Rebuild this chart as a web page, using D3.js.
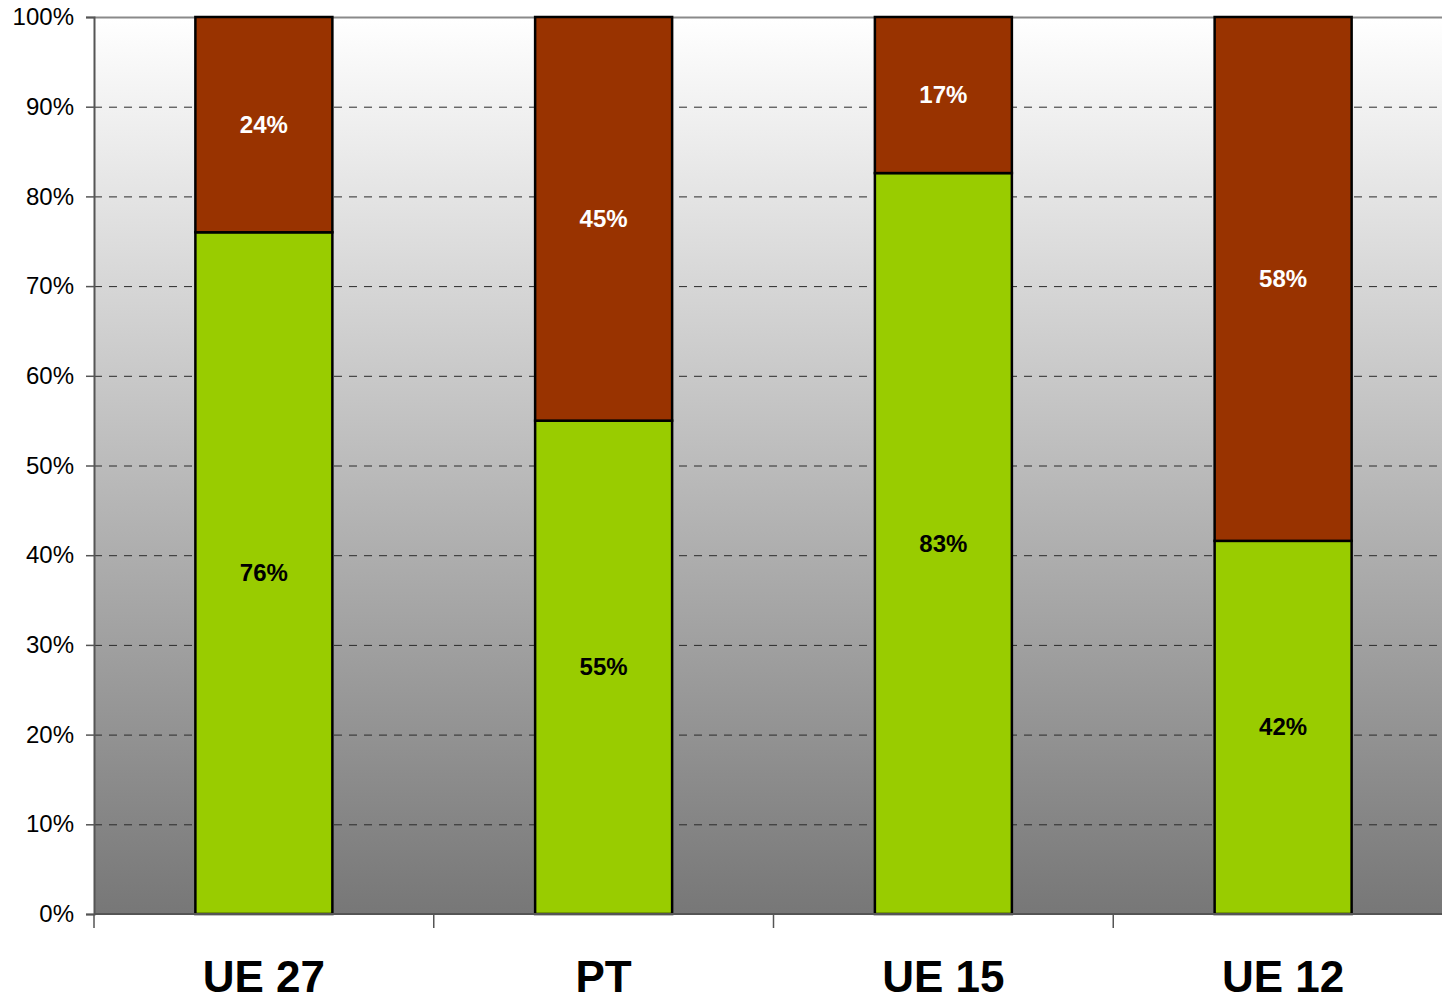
<!DOCTYPE html>
<html>
<head>
<meta charset="utf-8">
<script src="https://cdn.jsdelivr.net/npm/d3@7"></script>
<style>
  body { margin: 0; background: #fff; }
  svg { display: block; font-family: "Liberation Sans", Arial, sans-serif; }
</style>
</head>
<body>
<div class="canvas"></div>
<script>
// data
const categories = ['UE 27', 'PT', 'UE 15', 'UE 12'];
const greenValues = [76, 55, 82.6, 41.6];
const redValues = [24, 45, 17.4, 58.4];
const greenLabels = ['76%', '55%', '83%', '42%'];
const redLabels = ['24%', '45%', '17%', '58%'];
const yTicks = [0, 10, 20, 30, 40, 50, 60, 70, 80, 90, 100];

const svg = d3.select('.canvas')
    .append('svg')
    .attr('width', 1442)
    .attr('height', 999);

const margins = {top: 17, left: 94, bottom: 85, right: -11};
const graphWidth = 1442 - margins.left - margins.right;
const graphHeight = 999 - margins.top - margins.bottom;

// background gradient
const defs = svg.append('defs');
const grad = defs.append('linearGradient')
    .attr('id', 'bg')
    .attr('x1', 0).attr('y1', 0).attr('x2', 0).attr('y2', 1);
grad.append('stop').attr('offset', '0%').attr('stop-color', '#ffffff');
grad.append('stop').attr('offset', '100%').attr('stop-color', '#777777');

const graph = svg.append('g')
    .attr('transform', 'translate(' + margins.left + ',' + margins.top + ')');

const y = d3.scaleLinear()
    .range([graphHeight, 0])
    .domain([0, 100]);

const x = d3.scaleBand()
    .range([0, graphWidth])
    .domain(categories)
    .paddingInner(0)
    .paddingOuter(0);

const barW = 137;

graph.append('rect')
    .attr('width', graphWidth)
    .attr('height', graphHeight)
    .attr('fill', 'url(#bg)');

// gridlines
graph.selectAll('line.grid')
    .data(yTicks.filter(t => t > 0 && t < 100))
    .enter().append('line')
    .attr('class', 'grid')
    .attr('x1', 0)
    .attr('x2', graphWidth)
    .attr('y1', d => y(d) + 0.5)
    .attr('y2', d => y(d) + 0.5)
    .attr('stroke', '#2a2a2a')
    .attr('stroke-width', 1)
    .attr('stroke-dasharray', '8,7');

// top border
graph.append('line')
    .attr('x1', 0).attr('x2', graphWidth)
    .attr('y1', 0.5).attr('y2', 0.5)
    .attr('stroke', '#8a8a8a')
    .attr('stroke-width', 2);

// bars
const idx = d3.range(categories.length);
const bx = i => x(categories[i]) + (x.bandwidth() - barW) / 2;

graph.selectAll('rect.green')
    .data(idx)
    .enter().append('rect')
    .attr('class', 'green')
    .attr('x', bx)
    .attr('y', i => y(greenValues[i]))
    .attr('width', barW)
    .attr('height', i => graphHeight - y(greenValues[i]))
    .attr('fill', '#99cc00')
    .attr('stroke', '#000')
    .attr('stroke-width', 2.5);

graph.selectAll('rect.red')
    .data(idx)
    .enter().append('rect')
    .attr('class', 'red')
    .attr('x', bx)
    .attr('y', i => y(greenValues[i] + redValues[i]))
    .attr('width', barW)
    .attr('height', i => y(greenValues[i]) - y(greenValues[i] + redValues[i]))
    .attr('fill', '#993300')
    .attr('stroke', '#000')
    .attr('stroke-width', 2.5);

// labels
graph.selectAll('text.gl')
    .data(idx)
    .enter().append('text')
    .attr('x', i => x(categories[i]) + x.bandwidth() / 2)
    .attr('y', i => y(greenValues[i] / 2) + 8)
    .attr('text-anchor', 'middle')
    .attr('font-size', 24)
    .attr('font-weight', 'bold')
    .attr('fill', '#000')
    .text(i => greenLabels[i]);

graph.selectAll('text.rl')
    .data(idx)
    .enter().append('text')
    .attr('x', i => x(categories[i]) + x.bandwidth() / 2)
    .attr('y', i => y(greenValues[i] + redValues[i] / 2) + 8)
    .attr('text-anchor', 'middle')
    .attr('font-size', 24)
    .attr('font-weight', 'bold')
    .attr('fill', '#fff')
    .text(i => redLabels[i]);

// axes
const yAxis = d3.axisLeft(y)
    .tickValues(yTicks)
    .tickSize(8)
    .tickPadding(12)
    .tickFormat(d => d + '%');

const yAxisGroup = graph.append('g').call(yAxis);
yAxisGroup.select('.domain').attr('stroke', '#555').attr('stroke-width', 2);
yAxisGroup.selectAll('.tick line').attr('stroke', '#555').attr('stroke-width', 1.5);
yAxisGroup.selectAll('.tick text')
    .attr('font-size', 24)
    .attr('font-family', '"Liberation Sans", Arial, sans-serif')
    .attr('fill', '#000');

const xAxisGroup = graph.append('g')
    .attr('transform', 'translate(0,' + graphHeight + ')');
xAxisGroup.append('line')
    .attr('x1', 0).attr('x2', graphWidth)
    .attr('y1', 0).attr('y2', 0)
    .attr('stroke', '#555').attr('stroke-width', 2);
xAxisGroup.selectAll('line.tk')
    .data(categories)
    .enter().append('line')
    .attr('x1', d => x(d)).attr('x2', d => x(d))
    .attr('y1', 0).attr('y2', 14)
    .attr('stroke', '#555').attr('stroke-width', 1.5);
xAxisGroup.selectAll('text.cat')
    .data(categories)
    .enter().append('text')
    .attr('x', d => x(d) + x.bandwidth() / 2)
    .attr('y', 78)
    .attr('text-anchor', 'middle')
    .attr('font-size', 44)
    .attr('font-weight', 'bold')
    .attr('fill', '#000')
    .text(d => d);
</script>
</body>
</html>
